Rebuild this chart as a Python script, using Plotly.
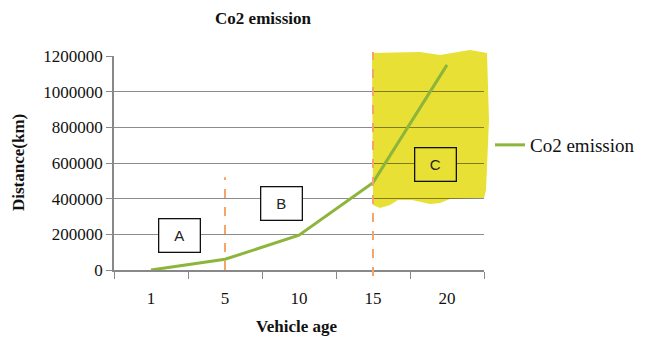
import plotly.graph_objects as go

categories = ["1", "5", "10", "15", "20"]
co2_values = [0, 60000, 195000, 490000, 1150000]
y_ticks = [0, 200000, 400000, 600000, 800000, 1000000, 1200000]
zone_labels = ["A", "B", "C"]

OFF = 8  # page body margin
W, H = 646, 342
PL, PR, PT, PB = 114, 484, 56, 270  # plot area in reference pixels
L, T = PL - OFF, PT - OFF
pw, ph = PR - PL, PB - PT
R = W - L - pw
B = H - T - ph

def px(x):
    return (x - PL) / pw

def py(y):
    return (PB - y) / ph

serif = "Liberation Serif, Times New Roman, serif"

fig = go.Figure()
fig.add_trace(go.Scatter(
    x=categories, y=co2_values, mode="lines", name="Co2 emission",
    line=dict(color="#8db53c", width=3)
))

# yellow highlight (irregular)
pts = [(372, 53), (420, 52), (440, 55), (470, 50), (487, 53), (489, 120), (486, 190),
       (484, 198), (450, 199), (440, 203), (430, 204), (412, 200), (398, 200),
       (390, 205), (380, 208), (373, 205)]
path = "M " + " L ".join(f"{px(a):.4f},{py(b):.4f}" for a, b in pts) + " Z"
fig.add_shape(type="path", path=path, xref="paper", yref="paper",
              fillcolor="#e8e034", line=dict(width=0), layer="below")

# dashed dividers
fig.add_shape(type="line", xref="x", yref="y", x0=1, x1=1, y0=0, y1=520000,
              line=dict(color="#f5a46a", width=2, dash="dash"))
fig.add_shape(type="line", xref="x", yref="paper", x0=3, x1=3, y0=py(276), y1=py(52),
              line=dict(color="#f5a46a", width=2, dash="dash"))

# zone boxes
box_pos = [(0.38, 193000, "white"), (1.77, 372000, "white"), (3.85, 591000, "#e8e034")]
for lab, (bx, by, bg) in zip(zone_labels, box_pos):
    fig.add_annotation(x=bx, y=by, xref="x", yref="y", text=lab, showarrow=False,
                       font=dict(family="Liberation Sans, Arial, sans-serif", size=15, color="#222"),
                       width=38, height=30, bgcolor=bg, bordercolor="#111", borderwidth=1.3)

fig.add_annotation(x=px(18), y=py(163), xref="paper", yref="paper", text="<b>Distance(km)</b>",
                   xanchor="center", yanchor="middle",
                   textangle=-90, showarrow=False, font=dict(family=serif, size=17, color="#111"))
fig.add_annotation(x=px(297), y=py(327), xref="paper", yref="paper", text="<b>Vehicle age</b>",
                   xanchor="center", yanchor="middle",
                   showarrow=False, font=dict(family=serif, size=17, color="#111"))

fig.update_layout(
    width=W, height=H, margin=dict(l=L, r=R, t=T, b=B, autoexpand=False),
    font=dict(family=serif, color="#111"),
    paper_bgcolor="white", plot_bgcolor="rgba(0,0,0,0)",
    title=dict(text="<b>Co2 emission</b>", x=px(263), xref="paper", xanchor="center",
               y=1 - (18 - OFF) / H, yanchor="middle", font=dict(family=serif, size=17, color="#111")),
    showlegend=True,
    legend=dict(x=px(490), y=py(145), xanchor="left", yanchor="middle",
                font=dict(family=serif, size=19, color="#111"), bgcolor="rgba(0,0,0,0)"),
    xaxis=dict(type="category", range=[-0.5, 4.5], tickson="boundaries", ticks="outside", ticklen=7,
               tickcolor="#888", showline=True, linecolor="#888", linewidth=1.5,
               showgrid=False, ticklabelstandoff=12, automargin=False,
               tickfont=dict(family=serif, size=17, color="#111")),
    yaxis=dict(range=[0, 1200000], tickvals=y_ticks, tickformat="d", ticks="outside", ticklen=6,
               tickcolor="#888", showline=True, linecolor="#888", linewidth=1.5,
               gridcolor="rgba(0,0,0,0.45)", gridwidth=1.3, zeroline=False, automargin=False,
               tickfont=dict(family=serif, size=17, color="#111")),
)

fig.write_html("out.html")
